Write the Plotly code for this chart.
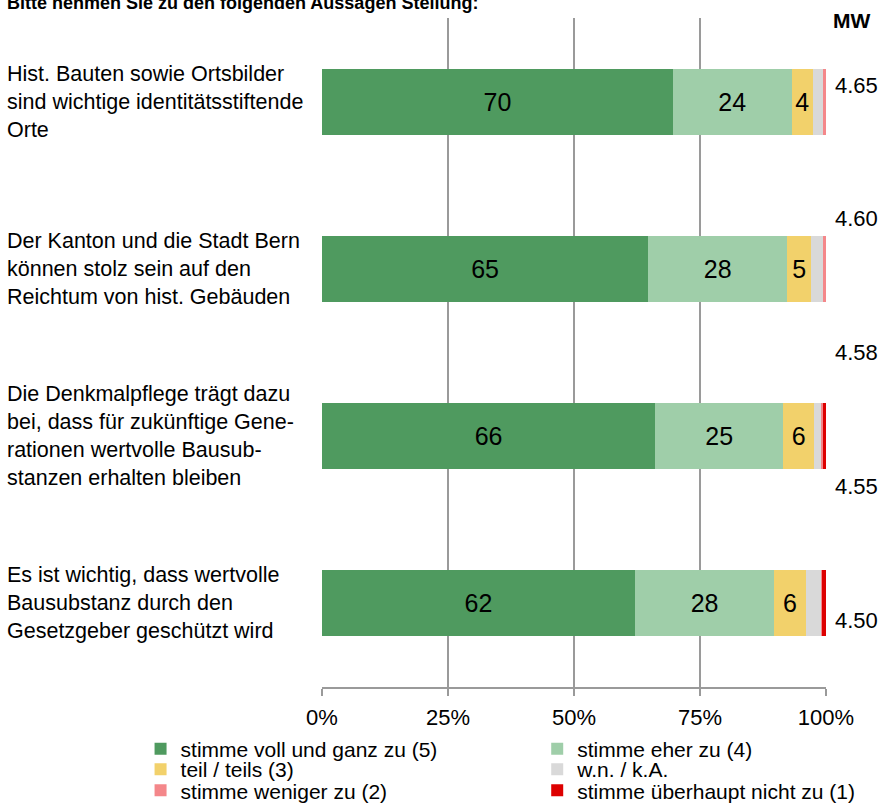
import plotly.graph_objects as go

FONT = "Arial, Liberation Sans, sans-serif"

title = "Bitte nehmen Sie zu den folgenden Aussagen Stellung:"

statements = [
    "Hist. Bauten sowie Ortsbilder<br>sind wichtige identitätsstiftende<br>Orte",
    "Der Kanton und die Stadt Bern<br>können stolz sein auf den<br>Reichtum von hist. Gebäuden",
    "Die Denkmalpflege trägt dazu<br>bei, dass für zukünftige Gene-<br>rationen wertvolle Bausub-<br>stanzen erhalten bleiben",
    "Es ist wichtig, dass wertvolle<br>Bausubstanz durch den<br>Gesetzgeber geschützt wird",
]

voll = [69.6, 64.7, 66.1, 62.1]
eher = [23.6, 27.6, 25.4, 27.6]
teils = [4.2, 4.8, 6.2, 6.3]
wn_ka = [2.0, 2.4, 1.5, 3.1]
weniger = [0.6, 0.5, 0.2, 0.1]
ueberhaupt = [0.0, 0.0, 0.6, 0.8]

mw_labels = ["4.65", "4.60", "4.58", "4.55", "4.50"]
x_ticks = [0, 25, 50, 75, 100]
x_ticktext = ["0%", "25%", "50%", "75%", "100%"]

# name, values, colour, show value label, legend id, legend column, legend row
series = [
    ("stimme voll und ganz zu (5)", voll, "#4F9A5F", True, "legend", 0, 0),
    ("stimme eher zu (4)", eher, "#9FCEA9", True, "legend2", 1, 0),
    ("teil / teils (3)", teils, "#F2D16B", True, "legend3", 0, 1),
    ("w.n. / k.A.", wn_ka, "#D9D9D9", False, "legend4", 1, 1),
    ("stimme weniger zu (2)", weniger, "#F4878A", False, "legend5", 0, 2),
    ("stimme überhaupt nicht zu (1)", ueberhaupt, "#DD0000", False, "legend6", 1, 2),
]

legend_x = [-0.36, 0.427]
legend_y = [-0.093, -0.1235, -0.155]

fig = go.Figure()
legends = {}
for name, vals, color, labelled, leg, col, row in series:
    fig.add_trace(go.Bar(
        y=statements, x=vals, name=name, orientation="h",
        marker=dict(color=color, line=dict(width=0)),
        text=vals if labelled else None,
        texttemplate="%{x:.0f}" if labelled else None,
        textposition="inside" if labelled else "none",
        insidetextanchor="middle",
        textangle=0,
        textfont=dict(size=25, color="black", family=FONT),
        legend=leg,
        hoverinfo="skip",
    ))
    legends[leg] = dict(
        orientation="h", x=legend_x[col], y=legend_y[row],
        xanchor="left", yanchor="middle",
        font=dict(size=21, color="black", family=FONT),
        bgcolor="rgba(0,0,0,0)", itemclick=False, itemdoubleclick=False,
    )

# invisible trace to carry the MW axis on the right
fig.add_trace(go.Scatter(
    x=[None], y=[None], yaxis="y2", showlegend=False, hoverinfo="skip"
))

for s in statements:
    fig.add_annotation(
        x=-0.629, xref="paper", y=s, yref="y", text=s, showarrow=False,
        xanchor="left", yanchor="middle", align="left",
        font=dict(size=21.5, color="black", family=FONT),
    )

fig.add_annotation(
    x=-0.629, xref="paper", y=1.0, yref="paper", yshift=15, text="<b>" + title + "</b>",
    showarrow=False, xanchor="left", yanchor="middle",
    font=dict(size=18, color="black", family=FONT),
)
fig.add_annotation(
    x=1.0, xref="paper", xshift=5, y=1.0, yref="paper", yshift=-2, text="<b>MW</b>",
    showarrow=False, xanchor="left", yanchor="middle",
    font=dict(size=21, color="black", family=FONT),
)

fig.update_layout(
    width=886, height=809,
    margin=dict(l=322, r=60, t=18, b=122, autoexpand=False),
    plot_bgcolor="white", paper_bgcolor="white",
    barmode="stack", bargap=0.605,
    font=dict(family=FONT, size=21, color="black"),
    showlegend=True,
    xaxis=dict(
        range=[0, 100], tickvals=x_ticks, ticktext=x_ticktext,
        showgrid=True, gridcolor="#9A9A9A", gridwidth=1.5,
        showline=True, linecolor="#9A9A9A", linewidth=1.5,
        ticks="outside", ticklen=7, tickcolor="#9A9A9A", tickwidth=1.5,
        zeroline=False, tickfont=dict(size=22), ticklabelstandoff=3,
        automargin=False,
    ),
    yaxis=dict(
        categoryorder="array", categoryarray=statements,
        autorange="reversed", showticklabels=False, showgrid=False,
        zeroline=False, showline=False, ticks="", automargin=False,
    ),
    yaxis2=dict(
        overlaying="y", side="right", range=[0, 5],
        tickvals=[4.5, 3.5, 2.5, 1.5, 0.5], ticktext=mw_labels,
        showgrid=False, zeroline=False, showline=False, ticks="",
        ticklabelstandoff=8, tickfont=dict(size=22), automargin=False,
    ),
    **legends,
)

fig.write_html(
    "out.html",
    config={"displayModeBar": False},
    post_script="document.body.style.margin = '0';",
)
